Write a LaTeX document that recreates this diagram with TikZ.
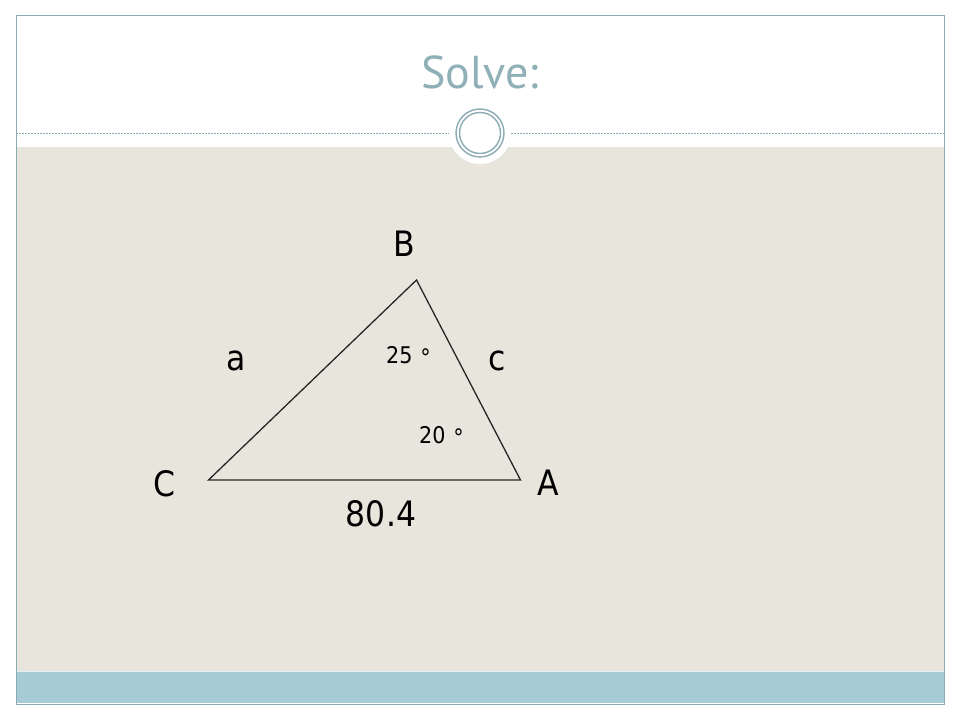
\documentclass[tikz,border=0pt]{standalone}
\usepackage{fontspec}
\setmainfont{DejaVu Sans Condensed}
\newfontfamily\titlefont{PT Sans}
\definecolor{beige}{RGB}{232,230,220}
\definecolor{barteal}{RGB}{167,203,212}
\definecolor{frame}{RGB}{140,170,180}
\definecolor{titlecol}{RGB}{143,176,182}
\newcommand{\degring}{\raisebox{4pt}{∘}}
\tikzset{
  lab/.style={inner sep=0pt, anchor=base, font=\fontsize{35}{40}\selectfont},
  anglab/.style={inner sep=0pt, anchor=base west, font=\fontsize{23}{27}\selectfont},
  side/.style={draw=black!85, line width=1.3pt},
  ring/.style={draw=frame, line width=1.4pt}
}
\begin{document}
\begin{tikzpicture}[x=1pt,y=1pt]
\useasboundingbox (0,0) rectangle (960,720);
\fill[white] (0,0) rectangle (960,720);
% beige body
\fill[beige] (16,49) rectangle (944,573);
% bottom bar
\fill[barteal] (16,17) rectangle (944,49);
\draw[white!70!barteal, line width=0.8pt] (16,49) -- (944,49);
% frame
\draw[frame, line width=1pt] (16,16) rectangle (944,704);
% dashed line
\draw[frame, dashed, dash pattern=on 2pt off 1pt, line width=0.6pt] (16,587) -- (944,587);
% circle ornament
\fill[white] (480,587) circle (31);
\draw[ring] (480,587) circle (24);
\draw[ring] (480,587) circle (20.5);
% title
\node[inner sep=0pt, anchor=base, text=titlecol, font=\titlefont\fontsize{46}{50}\selectfont] (title) at (480,631) {Solve:};
% triangle
\coordinate (vB) at (416.5,440);
\coordinate (vC) at (208.5,240);
\coordinate (vA) at (520.5,240);
\draw[side, line join=miter] (vC) -- (vB) -- (vA) -- cycle;
% labels
\node[lab] (lB) at (404,463.5) {B};
\node[lab] (lC) at (164,223.5) {C};
\node[lab] (lA) at (548,224) {A};
\node[lab] (la) at (236,349.5) {a};
\node[lab] (lc) at (497,349.5) {c};
\node[lab] (lside) at (381,193) {80.4};
\node[anglab] (ang25) at (386,356) {25 \degring};
\node[anglab] (ang20) at (419,276) {20 \degring};
\end{tikzpicture}
\end{document}
